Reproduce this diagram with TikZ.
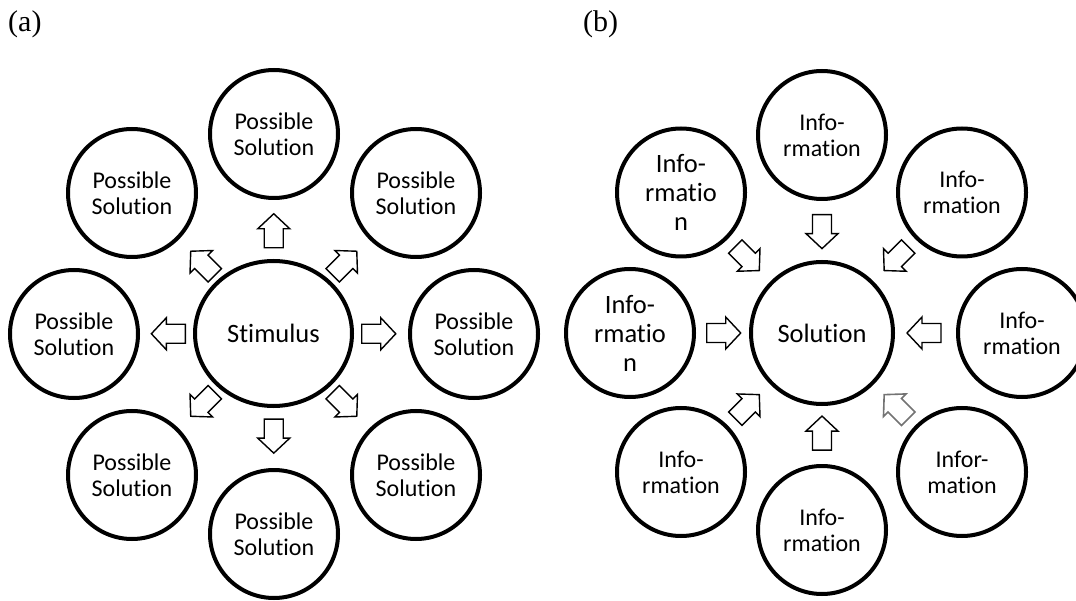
\documentclass[tikz,border=0pt]{standalone}
\usepackage{fontspec}
\setmainfont{Carlito}[Ligatures={NoCommon}]
\newfontfamily\labelfont{Liberation Serif}
\usetikzlibrary{calc,shapes.geometric}
\tikzset{
  outer/.style={circle,draw,line width=4pt,minimum size=128pt,inner sep=0pt,align=center,
    font=\fontsize{24}{26}\selectfont},
  outerbig/.style={outer,font=\fontsize{26.5}{29}\selectfont},
  hubtext/.style={draw,line width=4pt,inner sep=0pt,align=center,font=\fontsize{26.5}{29}\selectfont},
  blk/.pic={\path[pic actions] (17,0) -- (2,16) -- (2,9.5) -- (-17,9.5) -- (-17,-9.5) -- (2,-9.5) -- (2,-16) -- cycle;},
  blkstyle/.style={draw=black,fill=white,line width=1.4pt,line join=miter},
  blkgrey/.style={draw=black!55,fill=white,line width=1.6pt,line join=miter},
  panel/.style={font=\labelfont\fontsize{30}{32}\selectfont,inner sep=0pt,anchor=base west}
}
\begin{document}
\begin{tikzpicture}[x=1pt,y=-1pt]
\useasboundingbox (0,0) rectangle (1076,601);

% panel labels
\node[panel] (la) at (8,32) {(a)};
\node[panel] (lb) at (583,32) {(b)};

% ---------- (a) ----------
\node[hubtext,ellipse,minimum width=157pt,minimum height=145pt] (stim) at (273.5,333.5) {Stimulus};
\node[outer] (a1) at (274,134) {Possible\\Solution};
\node[outer] (a2) at (416,193) {Possible\\Solution};
\node[outer] (a3) at (474,334) {Possible\\Solution};
\node[outer] (a4) at (416,475) {Possible\\Solution};
\node[outer] (a5) at (274,534) {Possible\\Solution};
\node[outer] (a6) at (132,475) {Possible\\Solution};
\node[outer] (a7) at (74,334) {Possible\\Solution};
\node[outer] (a8) at (132,193) {Possible\\Solution};

\pic[blkstyle,rotate=90]   at ($(stim)!0.515!(a1)$) {blk};
\pic[blkstyle,rotate=45]   at ($(stim)!0.50!(a2)$) {blk};
\pic[blkstyle,rotate=0]    at ($(stim)!0.525!(a3)$) {blk};
\pic[blkstyle,rotate=-45]  at ($(stim)!0.50!(a4)$) {blk};
\pic[blkstyle,rotate=-90]  at ($(stim)!0.512!(a5)$) {blk};
\pic[blkstyle,rotate=-135] at ($(stim)!0.50!(a6)$) {blk};
\pic[blkstyle,rotate=180]  at ($(stim)!0.527!(a7)$) {blk};
\pic[blkstyle,rotate=135]  at ($(stim)!0.50!(a8)$) {blk};

% ---------- (b) ----------
\node[hubtext,circle,minimum size=142pt] (sol) at (822,333) {Solution};
\node[outer] (b1) at (822,135) {Info-\\rmation};
\node[outer] (b2) at (962,192.5) {Info-\\rmation};
\node[outer] (b3) at (1022,333) {Info-\\rmation};
\node[outer] (b4) at (962,472) {Infor-\\mation};
\node[outer] (b5) at (822,530) {Info-\\rmation};
\node[outer] (b6) at (681,472) {Info-\\rmation};
\node[outerbig] (b7) at (630,333) {Info-\\rmatio\\n};
\node[outerbig] (b8) at (681,192.5) {Info-\\rmatio\\n};

\pic[blkstyle,rotate=-90]  at ($(sol)!0.512!(b1)$) {blk};
\pic[blkstyle,rotate=-135] at ($(sol)!0.53!(b2)$) {blk};
\pic[blkstyle,rotate=180]  at ($(sol)!0.51!(b3)$) {blk};
\pic[blkgrey,rotate=135]   at ($(sol)!0.53!(b4)$) {blk};
\pic[blkstyle,rotate=90]   at ($(sol)!0.508!(b5)$) {blk};
\pic[blkstyle,rotate=45]   at ($(sol)!0.53!(b6)$) {blk};
\pic[blkstyle,rotate=0]    at ($(sol)!0.512!(b7)$) {blk};
\pic[blkstyle,rotate=-45]  at ($(sol)!0.53!(b8)$) {blk};
\end{tikzpicture}
\end{document}
